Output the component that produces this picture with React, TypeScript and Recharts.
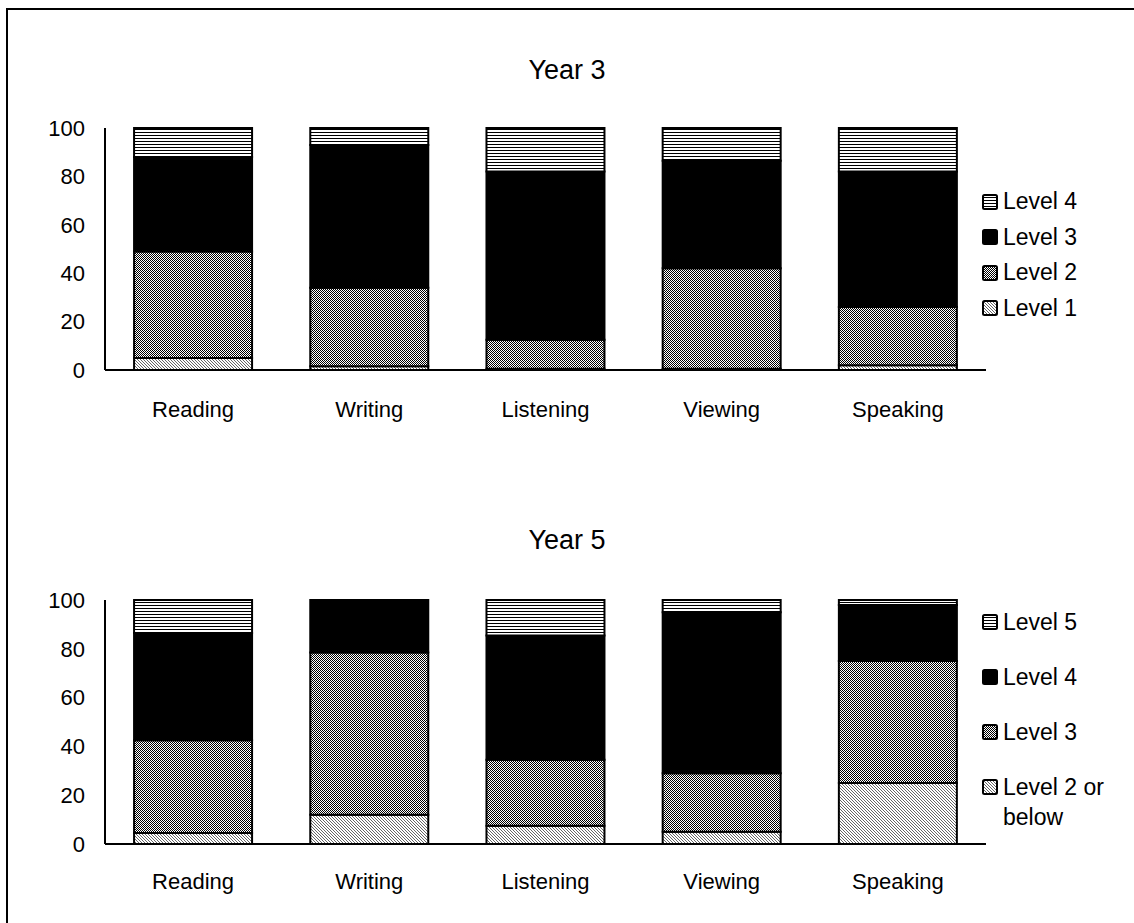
import React from 'react';
import { BarChart, Bar, XAxis, YAxis, Legend } from 'recharts';

const categories = ['Reading', 'Writing', 'Listening', 'Viewing', 'Speaking'];
const yTicks = [0, 20, 40, 60, 80, 100];

// Year 3
const y3Level1 = [5, 1.5, 0.5, 0.5, 2];
const y3Level2 = [44, 32.5, 12, 41.5, 24];
const y3Level3 = [39, 59, 69.5, 44.5, 56];
const y3Level4 = [12, 7, 18, 13.5, 18];

// Year 5
const y5Level2 = [4.5, 12, 7.5, 5, 25];
const y5Level3 = [38, 66.5, 27, 24, 50];
const y5Level4 = [44, 21.5, 51, 66, 23];
const y5Level5 = [13.5, 0, 14.5, 5, 2];

const y3Names = ['Level 1', 'Level 2', 'Level 3', 'Level 4'];
const y5Names = ['Level 2 or below', 'Level 3', 'Level 4', 'Level 5'];
const fills = ['url(#pDiag)', 'url(#pCheck)', '#000000', 'url(#pHoriz)'];

const FONT = '"Liberation Sans", Arial, sans-serif';

const y3Data = categories.map((name, i) => ({
  name,
  s0: y3Level1[i],
  s1: y3Level2[i],
  s2: y3Level3[i],
  s3: y3Level4[i],
}));
const y5Data = categories.map((name, i) => ({
  name,
  s0: y5Level2[i],
  s1: y5Level3[i],
  s2: y5Level4[i],
  s3: y5Level5[i],
}));

const makeLegend = (rowHeight: number, lineHeight: number) => (props: any) => {
  const payload = [...(props.payload || [])].reverse();
  return (
    <div style={{ fontFamily: FONT, fontSize: 23, color: '#000' }}>
      {payload.map((entry: any) => {
        const idx = ['s0', 's1', 's2', 's3'].indexOf(entry.dataKey);
        return (
          <div
            key={entry.dataKey}
            style={{ display: 'flex', alignItems: 'flex-start', height: rowHeight }}
          >
            <div style={{ height: lineHeight, display: 'flex', alignItems: 'center' }}>
              <svg width={16} height={16} style={{ display: 'block' }}>
                <rect x={1} y={1} width={14} height={14} rx={1.5} fill={fills[idx]} stroke="#000" strokeWidth={2} />
              </svg>
            </div>
            <div style={{ marginLeft: 5, lineHeight: `${lineHeight}px`, width: 128 }}>{entry.value}</div>
          </div>
        );
      })}
    </div>
  );
};

type PanelProps = {
  data: any[];
  names: string[];
  top: number;
  height: number;
  marginTop: number;
  marginBottom: number;
  legendTop: number;
  rowHeight: number;
  lineHeight: number;
  labelGap: number;
};

const Panel = ({ data, names, top, height, marginTop, marginBottom, legendTop, rowHeight, lineHeight, labelGap }: PanelProps) => (
  <div style={{ position: 'absolute', left: 0, top, width: 1134, height }}>
    <BarChart
      width={1134}
      height={height}
      data={data}
      margin={{ top: marginTop, right: 148, bottom: marginBottom, left: 0 }}
      barCategoryGap="16.5%"
    >
      <XAxis
        dataKey="name"
        interval={0}
        tickLine={false}
        tickSize={0}
        tickMargin={labelGap}
        axisLine={{ stroke: '#000', strokeWidth: 2 }}
        tick={{ fill: '#000', fontSize: 22, fontFamily: FONT }}
        height={50}
      />
      <YAxis
        domain={[0, 100]}
        ticks={yTicks}
        interval={0}
        tickLine={false}
        tickSize={0}
        tickMargin={20}
        width={105}
        axisLine={{ stroke: '#000', strokeWidth: 2 }}
        tick={{ fill: '#000', fontSize: 22, fontFamily: FONT }}
      />
      <Legend
        layout="horizontal"
        verticalAlign="middle"
        align="center"
        content={makeLegend(rowHeight, lineHeight)}
        wrapperStyle={{ left: 982, top: legendTop, width: 152, height: 'auto' }}
      />
      {['s0', 's1', 's2', 's3'].map((k, i) => (
        <Bar
          key={k}
          dataKey={k}
          name={names[i]}
          stackId="a"
          fill={fills[i]}
          stroke="#000"
          strokeWidth={2}
          isAnimationActive={false}
        />
      ))}
    </BarChart>
  </div>
);

const Title = ({ text, center }: { text: string; center: number }) => (
  <div
    style={{
      position: 'absolute',
      left: 0,
      width: 1134,
      top: center - 13.5,
      textAlign: 'center',
      fontFamily: FONT,
      fontSize: 27,
      lineHeight: '27px',
      color: '#000',
    }}
  >
    {text}
  </div>
);

export default function App() {
  return (
    <div style={{ position: 'absolute', left: 0, top: 0, width: 1134, height: 923, background: '#fff', overflow: 'hidden' }}>
      <svg width={0} height={0} style={{ position: 'absolute' }}>
        <defs>
          <pattern id="pDiag" width={3} height={3} patternUnits="userSpaceOnUse">
            <rect width={3} height={3} fill="#fff" />
            <path d="M0,0 L3,3 M-1,2 L1,4 M2,-1 L4,1" stroke="#555" strokeWidth={0.9} />
          </pattern>
          <pattern id="pCheck" width={2} height={2} patternUnits="userSpaceOnUse">
            <rect width={2} height={2} fill="#fff" />
            <rect width={1} height={1} fill="#000" />
            <rect x={1} y={1} width={1} height={1} fill="#000" />
          </pattern>
          <pattern id="pHoriz" width={4} height={3} patternUnits="userSpaceOnUse">
            <rect width={4} height={3} fill="#fff" />
            <rect width={4} height={1} fill="#000" />
          </pattern>
        </defs>
      </svg>
      <div
        style={{
          position: 'absolute',
          left: 6,
          top: 8,
          width: 1128,
          height: 915,
          borderLeft: '2px solid #000',
          borderTop: '2px solid #000',
          boxSizing: 'border-box',
        }}
      />
      <Title text="Year 3" center={70} />
      <Panel
        data={y3Data}
        names={y3Names}
        top={0}
        height={450}
        marginTop={128}
        marginBottom={30}
        legendTop={184}
        rowHeight={35.5}
        lineHeight={35.5}
        labelGap={31}
      />
      <Title text="Year 5" center={540} />
      <Panel
        data={y5Data}
        names={y5Names}
        top={470}
        height={453}
        marginTop={130}
        marginBottom={29}
        legendTop={137}
        rowHeight={55}
        lineHeight={30}
        labelGap={29}
      />
    </div>
  );
}
